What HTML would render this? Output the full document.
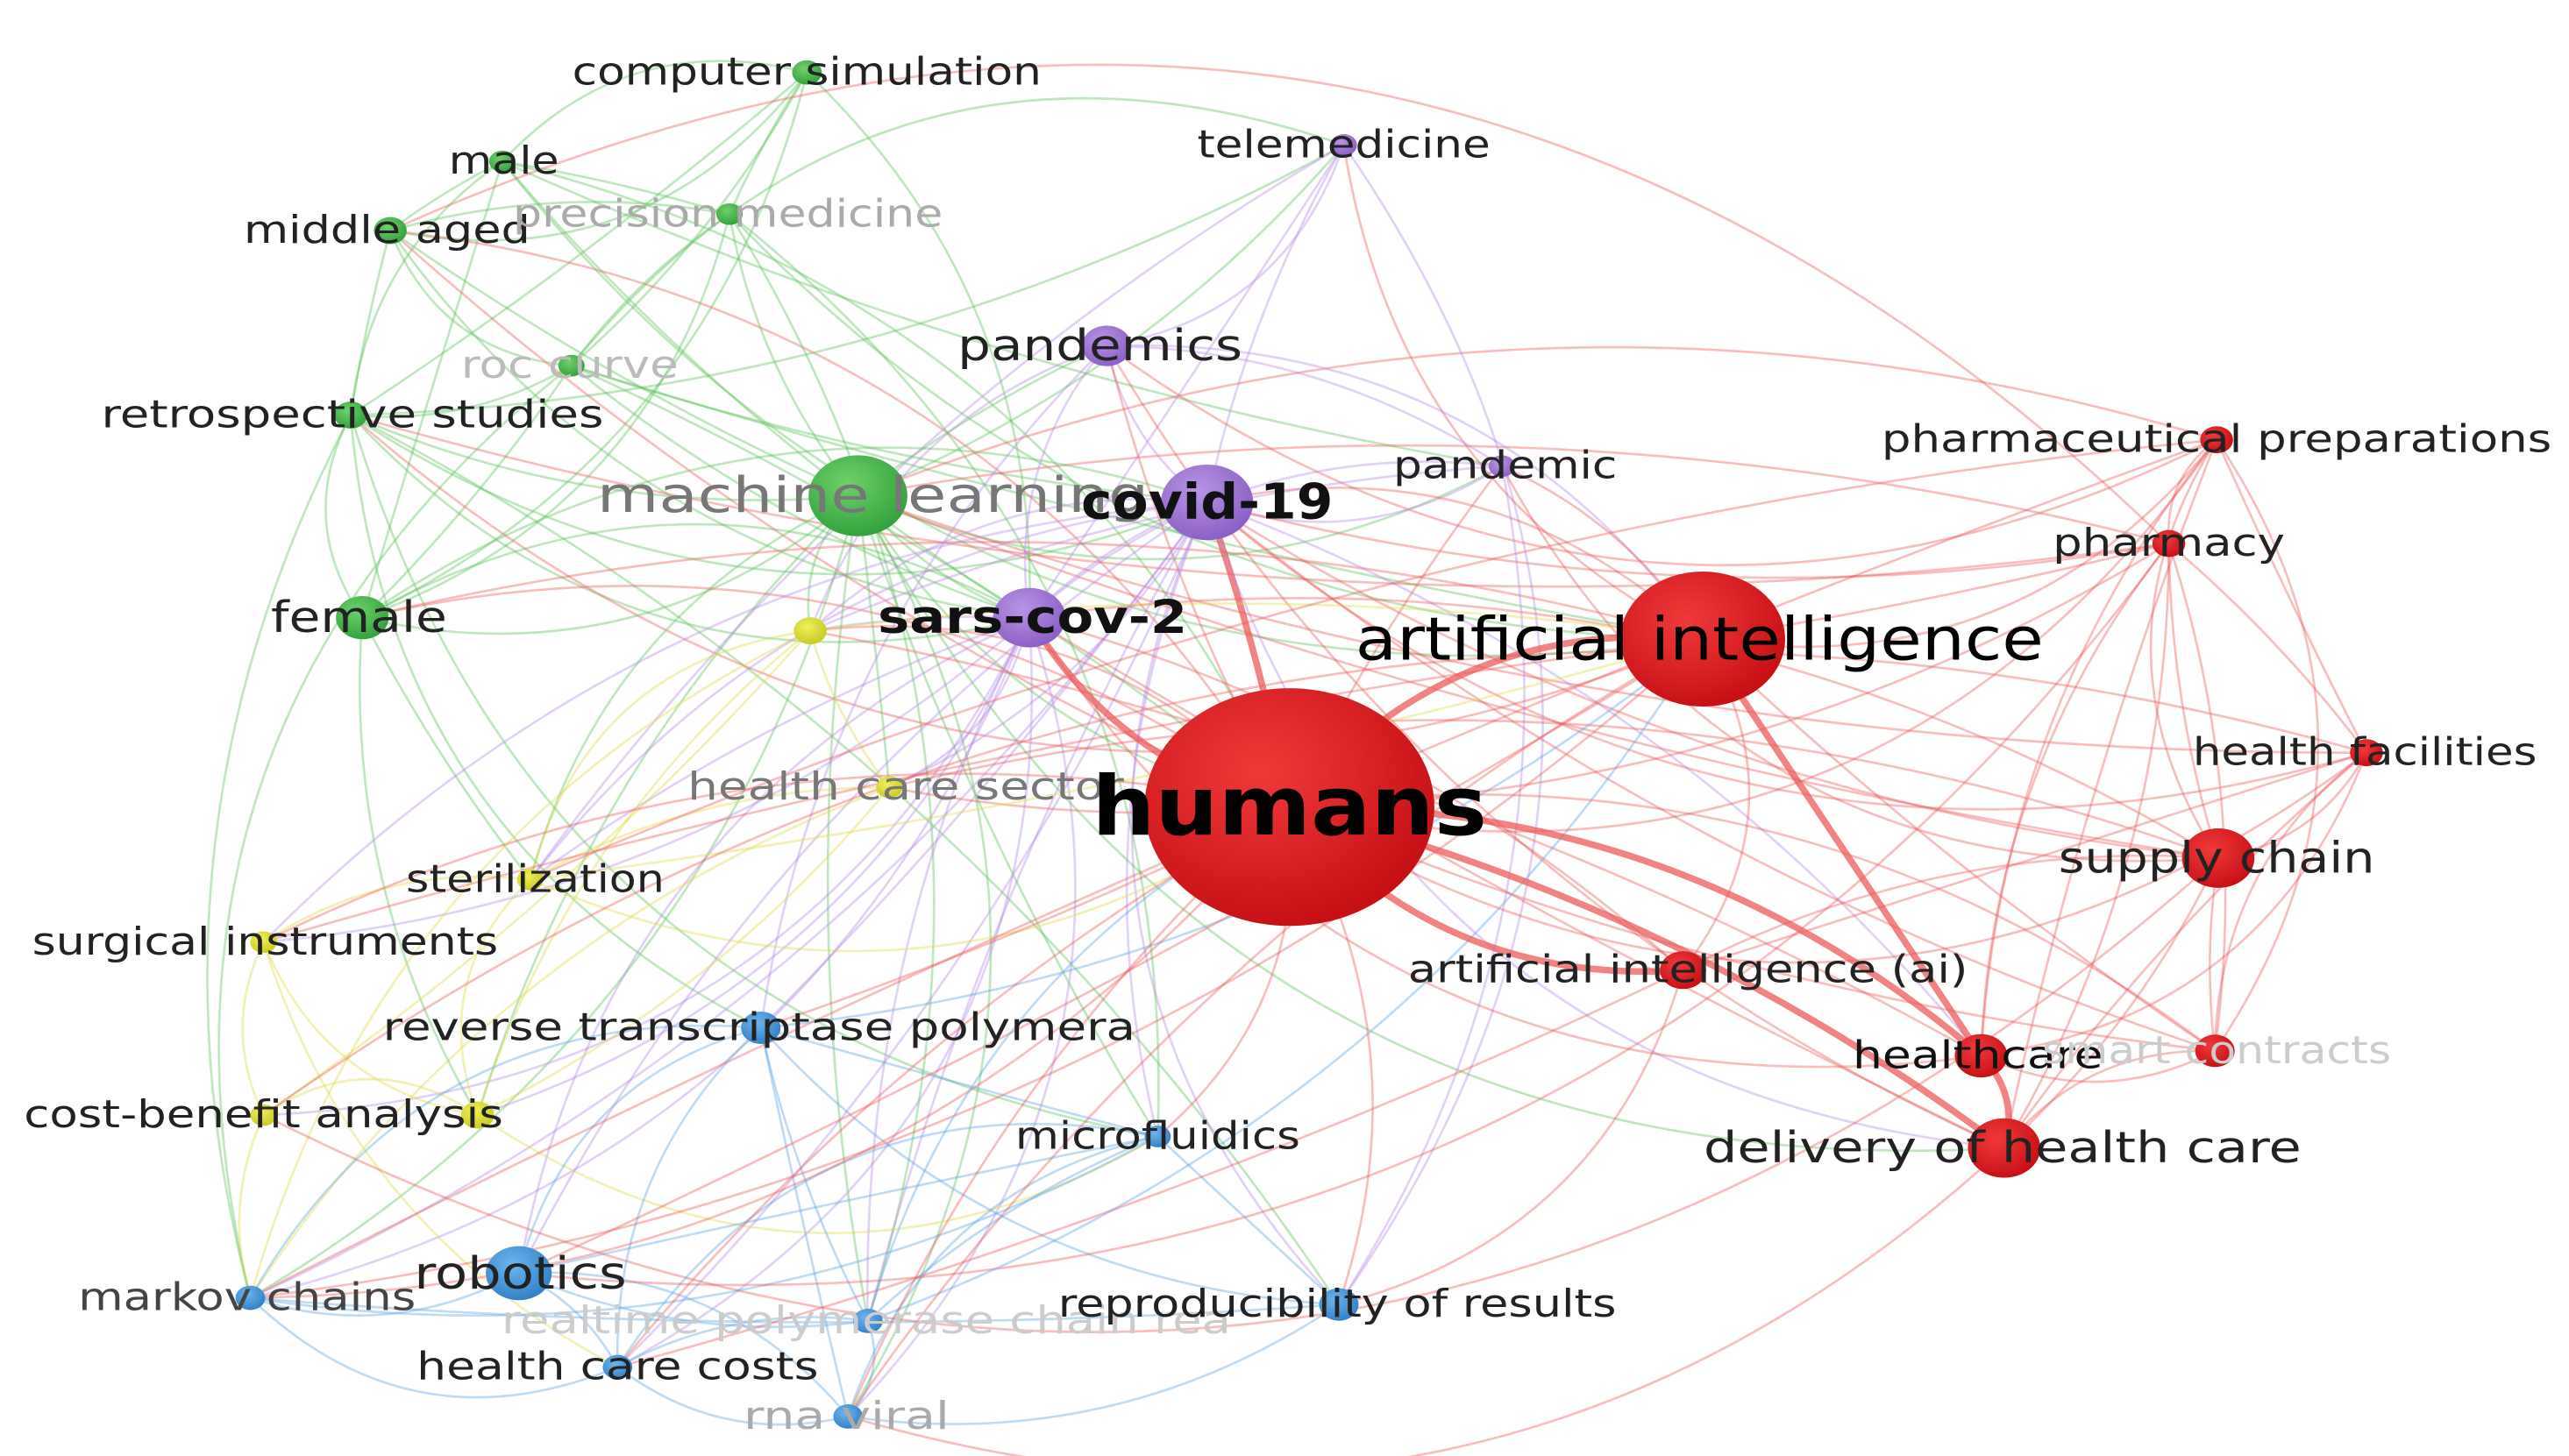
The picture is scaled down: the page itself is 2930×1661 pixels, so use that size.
<!DOCTYPE html>
<html><head><meta charset="utf-8"><style>
html,body{margin:0;padding:0;background:#fff;}
svg{display:block;}
text{font-family:"DejaVu Sans","Liberation Sans",sans-serif;text-anchor:middle;dominant-baseline:central;}
</style></head><body>
<svg id="s" width="2930" height="1661" viewBox="0 0 1560 884" preserveAspectRatio="none" xmlns="http://www.w3.org/2000/svg">
<defs>
<radialGradient id="gr" cx="0.4" cy="0.35" r="0.7"><stop offset="0" stop-color="#f03a3a"/><stop offset="1" stop-color="#c40e12"/></radialGradient>
<radialGradient id="gg" cx="0.4" cy="0.35" r="0.7"><stop offset="0" stop-color="#6fd06a"/><stop offset="1" stop-color="#2fa03a"/></radialGradient>
<radialGradient id="gp" cx="0.4" cy="0.35" r="0.7"><stop offset="0" stop-color="#b894e4"/><stop offset="1" stop-color="#8a5cc4"/></radialGradient>
<radialGradient id="gb" cx="0.4" cy="0.35" r="0.7"><stop offset="0" stop-color="#6cb4ee"/><stop offset="1" stop-color="#2f7ec4"/></radialGradient>
<radialGradient id="gy" cx="0.4" cy="0.35" r="0.7"><stop offset="0" stop-color="#f0ef5a"/><stop offset="1" stop-color="#c8c820"/></radialGradient>
</defs>
<g id="edges" fill="none"></g>
<g id="nodes"></g>
<g id="labels"></g>
</svg>
<script>
var N=[
["computer simulation",490,44,9,"g",23,"#222",490,285],
["male",305,98,8,"g",23,"#222",306,67],
["middle aged",237,140,10,"g",23,"#222",235,174],
["precision medicine",443,130,8,"g",23,"#aaa",442,261],
["roc curve",347,222,8,"g",23,"#bbb",346,132],
["retrospective studies",213,252,10,"g",23,"#222",214,305],
["machine learning",521,301,30,"g",30,"#777",530,335],
["female",220,375,16,"g",26,"#222",218,107],
["telemedicine",816,88,8,"p",23,"#222",816,178],
["pandemics",672,210,15,"p",26,"#222",668,173],
["covid-19",733,305,28,"p",30,"#111",733,153,1],
["pandemic",912,283,8,"p",23,"#222",914,136],
["sars-cov-2",625,375,22,"p",28,"#111",627,188,1],
["",492,383,10,"y",22,"#222"],
["health care sector",540,478,8,"y",23,"#777",550,265],
["sterilization",322,534,8,"y",23,"#222",325,157],
["surgical instruments",160,572,8,"y",23,"#222",161,283],
["cost-benefit analysis",160,677,8,"y",23,"#222",160,291],
["",290,677,10,"y",22,"#222"],
["reverse transcriptase polymera",462,624,12,"b",23,"#222",461,457],
["microfluidics",703,690,8,"b",23,"#222",703,173],
["robotics",315,773,20,"b",27,"#222",316,129],
["markov chains",152,788,9,"b",23,"#444",150,205],
["health care costs",375,830,9,"b",23,"#222",375,244],
["realtime polymerase chain rea",527,802,9,"b",23,"#ccc",526,443],
["rna viral",515,860,9,"b",23,"#aaa",514,125],
["reproducibility of results",813,792,12,"b",23,"#222",812,339],
["humans",783,490,88,"r",50,"#000",783,240,1],
["artificial intelligence",1034,388,50,"r",36,"#000",1032,418],
["pharmaceutical preparations",1346,267,10,"r",23,"#222",1346,407],
["pharmacy",1317,330,10,"r",23,"#222",1317,141],
["health facilities",1437,457,10,"r",23,"#222",1436,209],
["supply chain",1347,521,22,"r",26,"#222",1346,192],
["artificial intelligence (ai)",1022,589,14,"r",23,"#222",1025,340],
["healthcare",1203,641,16,"r",23,"#111",1201,152],
["smart contracts",1345,638,12,"r",23,"#ccc",1346,212],
["delivery of health care",1217,697,22,"r",26,"#222",1216,363]];
var col={g:"#5cc45a",p:"#b68ae6",b:"#5ca6e4",y:"#e0da40",r:"#ee5a5a"};
var E=document.getElementById("edges"),ND=document.getElementById("nodes"),L=document.getElementById("labels");
var ns="http://www.w3.org/2000/svg";
function h(i,j){var x=Math.sin(i*12.9898+j*78.233)*43758.5453;return x-Math.floor(x);}
var hubs=[27,28,10,12,6];
for(var i=0;i<N.length;i++)for(var j=i+1;j<N.length;j++){
 var a=N[i],b=N[j],p=h(i,j);
 var inc=(a[4]==b[4]&&p<0.8)||((hubs.indexOf(i)>=0||hubs.indexOf(j)>=0)&&p<0.65)||p<0.1;
 if(!inc)continue;
 var mx=(a[1]+b[1])/2,my=(a[2]+b[2])/2,dx=b[1]-a[1],dy=b[2]-a[2];
 var k=(h(j,i)-0.5)*0.7;
 var cx=mx-dy*k,cy=my+dx*k;
 var pa=document.createElementNS(ns,"path");
 pa.setAttribute("d","M"+a[1]+" "+a[2]+"Q"+cx+" "+cy+" "+b[1]+" "+b[2]);
 var c=(b[4]=="r")?((a[4]=="r"||p<0.5)?"r":a[4]):a[4];
 var thick=1.4;
 if((i==27&&(j==28||j==33||j==34||j==36))||(i==28&&(j==34||j==36))||(i==32&&j==34)||(i==33&&j==34)||(i==34&&j==36)||(i==12&&j==27)||(i==10&&j==27))thick=4;
 pa.setAttribute("stroke",col[c]);pa.setAttribute("stroke-width",thick);
 pa.setAttribute("stroke-opacity",thick>2?0.75:0.4);
 E.appendChild(pa);
}
N.forEach(function(n){
 var c=document.createElementNS(ns,"ellipse");
 c.setAttribute("cx",n[1]);c.setAttribute("cy",n[2]);c.setAttribute("rx",n[3]);c.setAttribute("ry",n[3]*0.82);
 c.setAttribute("fill","url(#g"+n[4]+")");ND.appendChild(c);
 if(n[0]){var t=document.createElementNS(ns,"text");
 t.setAttribute("x",n[7]);t.setAttribute("y",n[2]);t.setAttribute("font-size",n[5]);
 t.setAttribute("fill",n[6]);if(n[9])t.setAttribute("font-weight","bold");
 t.setAttribute("textLength",n[8]);t.setAttribute("lengthAdjust","spacingAndGlyphs");
 t.textContent=n[0];L.appendChild(t);}
});
</script>
</body></html>
